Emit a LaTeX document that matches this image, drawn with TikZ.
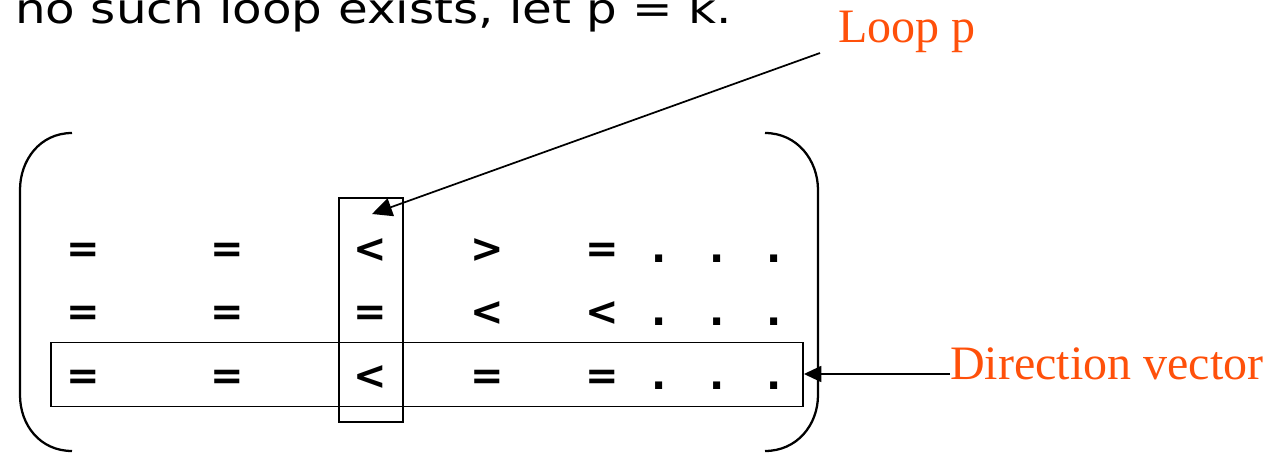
\documentclass[tikz,border=0pt]{standalone}
\usepackage{fontspec}
\setmainfont{Liberation Serif}
\newfontfamily\verd{DejaVu Sans}
\usetikzlibrary{arrows.meta}
\definecolor{lbl}{RGB}{255,80,10}
\tikzset{
  sym/.style={inner sep=0pt, anchor=base, font=\verd\bfseries\fontsize{30}{30}\selectfont},
  frame/.style={draw, line width=1.4pt, inner sep=0pt},
  paren/.style={draw, line width=1.7pt},
  lab/.style={text=lbl, inner sep=0pt, font=\fontsize{36}{36}\selectfont},
  conn/.style={draw, line width=1.3pt}
}
\begin{document}
\begin{tikzpicture}[x=0.75pt,y=-0.75pt]
\useasboundingbox (0,0) rectangle (1272,453);
\begin{scope}
\clip (0,0) rectangle (1272,453);
\node[inner sep=0pt, anchor=base west, font=\verd\fontsize{31}{31}\selectfont] (top) at (15,24) {\scalebox{1.17}[1]{no such loop exists, let p = k.}};
\end{scope}
% parentheses
\draw[paren] (72,133) .. controls (40,133) and (20,160) .. (20,190) -- (20,395) .. controls (20,425) and (40,451) .. (72,451);
\draw[paren] (765,133) .. controls (797,133) and (818,160) .. (818,190) -- (818,395) .. controls (818,425) and (797,451) .. (765,451);
% row 1
\node[sym] (a1) at (83,262) {=};
\node[sym] (a2) at (227,262) {=};
\node[sym] (a3) at (370,262) {<};
\node[sym] (a4) at (487,262) {>};
\node[sym] (a5) at (602,262) {=};
\node[sym] (a6) at (659,262) {.};
\node[sym] (a7) at (717,262) {.};
\node[sym] (a8) at (774,262) {.};
% row 2
\node[sym] (b1) at (83,325) {=};
\node[sym] (b2) at (227,325) {=};
\node[sym] (b3) at (370,325) {=};
\node[sym] (b4) at (487,325) {<};
\node[sym] (b5) at (602,325) {<};
\node[sym] (b6) at (659,325) {.};
\node[sym] (b7) at (717,325) {.};
\node[sym] (b8) at (774,325) {.};
% row 3
\node[sym] (c1) at (83,389) {=};
\node[sym] (c2) at (227,389) {=};
\node[sym] (c3) at (370,389) {<};
\node[sym] (c4) at (487,389) {=};
\node[sym] (c5) at (602,389) {=};
\node[sym] (c6) at (659,389) {.};
\node[sym] (c7) at (717,389) {.};
\node[sym] (c8) at (774,389) {.};
% boxes
\node[frame, minimum width=48pt, minimum height=168pt] (loopbox) at (371,310) {};
\node[frame, minimum width=564pt, minimum height=48pt] (dirbox) at (427,374.5) {};
% labels
\node[lab, anchor=base west] (looplab) at (838,43) {Loop p};
\node[lab, anchor=base west] (dirlab) at (950,379) {Direction vector};
\coordinate (looptail) at (820,53);
\coordinate (looptip) at (372,214);
\draw[conn, -{Triangle[length=15pt,width=14pt]}] (looptail) -- (looptip);
\draw[conn, -{Triangle[length=13pt,width=12pt]}] (dirlab.west |- 0,374) -- (dirbox.east |- 0,374);
\end{tikzpicture}
\end{document}
